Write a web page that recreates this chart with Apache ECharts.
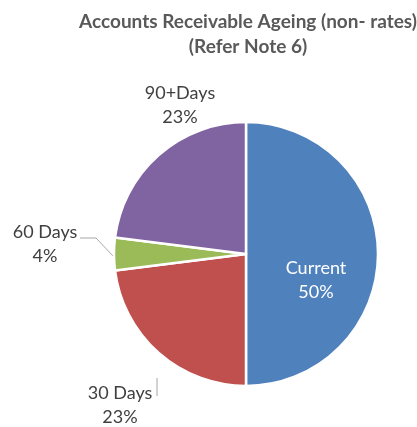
<!DOCTYPE html>
<html><head><meta charset="utf-8">
<script src="https://cdn.jsdelivr.net/npm/echarts@6/dist/echarts.min.js"></script>
<style>html,body{margin:0;padding:0;background:#fff}#c{width:417px;height:427px}</style>
</head><body><div id="c"></div>
<script>
const titleLines = ['Accounts Receivable Ageing (non- rates)', '(Refer Note 6)'];
const categories = ['Current', '30 Days', '60 Days', '90+Days'];
const values = [50, 23, 4, 23];
const colors = ['#4F81BD', '#C0504D', '#9BBB59', '#8064A2'];

const chart = echarts.init(document.getElementById('c'));
const labelPos = [
  {x: 316, y: 280, line: null},
  {x: 120, y: 405, line: [[157, 378], [157, 396], [157, 396]]},
  {x: 45, y: 244, line: [[113, 256], [96, 238], [80, 238]]},
  {x: 180, y: 105, line: null}
];
chart.setOption({
  animation: false,
  title: {
    text: titleLines.join('\n'),
    left: 243, top: 4, textAlign: 'center',
    textStyle: {fontFamily: 'Lato', fontWeight: 'bold', fontSize: 19, color: '#595959', lineHeight: 25}
  },
  series: [{
    type: 'pie',
    center: [246, 254],
    radius: 132,
    startAngle: 90,
    clockwise: true,
    avoidLabelOverlap: false,
    itemStyle: {borderColor: '#fff', borderWidth: 2.5},
    label: {
      show: true, position: 'outside', overflow: 'none',
      formatter: p => p.name + '\n' + Math.round(p.percent) + '%',
      fontFamily: 'Lato', fontSize: 18, color: '#404040', lineHeight: 24, align: 'center'
    },
    labelLine: {show: true, lineStyle: {color: '#A6A6A6', width: 1}},
    labelLayout: function (params) {
      const lp = labelPos[params.dataIndex];
      const o = {x: lp.x, y: lp.y, align: 'center', verticalAlign: 'middle', hideOverlap: false};
      if (lp.line) o.labelLinePoints = lp.line;
      return o;
    },
    data: categories.map((c, i) => {
      const d = {name: c, value: values[i], itemStyle: {color: colors[i]}};
      if (i === 0) { d.label = {position: 'inside', color: '#fff'}; d.labelLine = {show: false}; }
      if (i === 3) { d.labelLine = {show: false}; }
      return d;
    })
  }]
});
</script></body></html>
